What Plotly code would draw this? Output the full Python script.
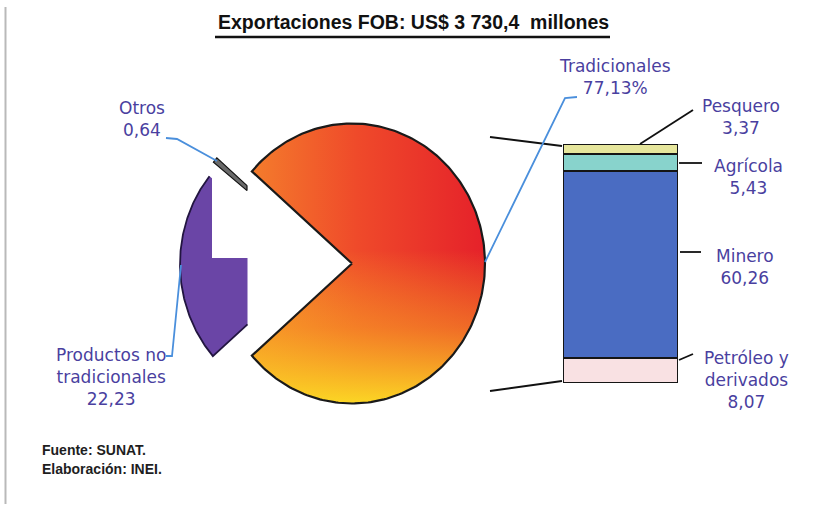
import numpy as np
import plotly.graph_objects as go

# ---- data -------------------------------------------------------------
titulo = "Exportaciones FOB: US$ 3 730,4  millones"
pie_categorias = ["Tradicionales", "Productos no tradicionales", "Otros"]
pie_valores = [77.13, 22.23, 0.64]          # % of total exports
trad_categorias = ["Pesquero", "Agrícola", "Minero", "Petróleo y derivados"]
trad_valores = [3.37, 5.43, 60.26, 8.07]    # % of total, breakdown of "Tradicionales"
fuente = ["Fuente: SUNAT.", "Elaboración: INEI."]

W, H = 837, 507
TXT = "#4a3f9f"
LEAD = "#4a8fdc"


def fmt(v):
    return f"{v:.2f}".replace(".", ",")


# ---- pie geometry helpers (pixel-like coordinates, y grows downwards) --
R, SX = 140.0, 0.95


def wedge(cx, cy, a0, a1, n=120):
    ang = np.radians(np.linspace(a0, a1, n))
    xs = [cx] + list(cx + SX * R * np.cos(ang)) + [cx]
    ys = [cy] + list(cy - R * np.sin(ang)) + [cy]
    return list(zip(xs, ys))


def clip(poly, keep):
    """Sutherland-Hodgman clip against a half plane given as (axis, value, side)."""
    axis, val, side = keep
    def inside(p):
        return p[axis] <= val if side == "le" else p[axis] >= val
    def inter(p, q):
        t = (val - p[axis]) / (q[axis] - p[axis])
        return (p[0] + t * (q[0] - p[0]), p[1] + t * (q[1] - p[1]))
    out = []
    for i in range(len(poly)):
        cur, prev = poly[i], poly[i - 1]
        if inside(cur):
            if not inside(prev):
                out.append(inter(prev, cur))
            out.append(cur)
        elif inside(prev):
            out.append(inter(prev, cur))
    return out


def to_xy(polys):
    xs, ys = [], []
    for p in polys:
        if not p:
            continue
        xs += [q[0] for q in p] + [p[0][0], None]
        ys += [q[1] for q in p] + [p[0][1], None]
    return xs, ys


# slice angles: Tradicionales is centred on the right, then Otros and
# Productos no tradicionales follow counter-clockwise
orden = ["Tradicionales", "Otros", "Productos no tradicionales"]
valor = dict(zip(pie_categorias, pie_valores))
angles = {}
a_start = -valor[orden[0]] * 3.6 / 2
for cat in orden:
    s = valor[cat] * 3.6
    angles[cat] = (a_start, a_start + s)
    a_start += s

centres = {
    "Tradicionales": (352.0, 263.5),
    "Productos no tradicionales": (313.0, 264.0),
    "Otros": (317.0, 250.0),
}

fig = go.Figure()

# Tradicionales slice: horizontal orange→red gradient plus a yellow glow towards the bottom
cat = "Tradicionales"
cx, cy = centres[cat]
red = wedge(cx, cy, *angles[cat], n=240)
rx, ry = to_xy([red])
fig.add_trace(go.Scatter(
    x=rx, y=ry, mode="lines", fill="toself", line=dict(width=0),
    fillgradient=dict(type="horizontal", start=250, stop=488,
                      colorscale=[[0, "#f47d2c"], [0.45, "#ef4a2a"], [1, "#e5202a"]]),
    hoverinfo="skip", showlegend=False))
fig.add_trace(go.Scatter(
    x=rx, y=ry, mode="lines", fill="toself", line=dict(color="#1a1a1a", width=2.2),
    fillgradient=dict(type="vertical", start=250, stop=404,
                      colorscale=[[0, "rgba(250,214,34,0)"], [0.5, "rgba(250,190,34,0.45)"],
                                  [1, "rgba(252,222,36,0.95)"]]),
    hoverinfo="skip", showlegend=False))

# Productos no tradicionales slice (exploded to the left)
cat = "Productos no tradicionales"
cx, cy = centres[cat]
a0, a1 = angles[cat]
pur = wedge(cx, cy, a0, a1)
lower = clip(clip(pur, (0, 247.5, "le")), (1, 258.0, "ge"))
upper = clip(clip(pur, (0, 212.0, "le")), (1, 260.0, "le"))
px_, py_ = to_xy([lower, upper])
fig.add_trace(go.Scatter(
    x=px_, y=py_, mode="lines", fill="toself", fillcolor="#6a45a6",
    line=dict(width=0), hoverinfo="skip", showlegend=False))
arc = np.radians(np.linspace(a0, a1, 120))
ax_ = list(cx + SX * R * np.cos(arc))
ay_ = list(cy - R * np.sin(arc))
t_edge = (cx - 247.5) / (-SX * np.cos(arc[-1]))
ax_.append(cx + SX * t_edge * np.cos(arc[-1]))
ay_.append(cy - t_edge * np.sin(arc[-1]))
fig.add_trace(go.Scatter(
    x=ax_, y=ay_, mode="lines", line=dict(color="#221540", width=1.8),
    hoverinfo="skip", showlegend=False))

# Otros slice (thin sliver)
cat = "Otros"
cx, cy = centres[cat]
otr = clip(wedge(cx, cy, *angles[cat]), (0, 247.0, "le"))
ox, oy = to_xy([otr])
fig.add_trace(go.Scatter(
    x=ox, y=oy, mode="lines", fill="toself", fillcolor="#6a6a6a",
    line=dict(color="#111111", width=1.2), hoverinfo="skip", showlegend=False))

# ---- stacked bar with the breakdown of Tradicionales -------------------
bar_colors = {"Pesquero": "#e6e69c", "Agrícola": "#88d3cc",
              "Minero": "#4a6cc2", "Petróleo y derivados": "#f9e1e3"}
for cat, val in reversed(list(zip(trad_categorias, trad_valores))):
    fig.add_trace(go.Bar(
        x=[0], y=[val], width=1, xaxis="x2", yaxis="y2",
        marker=dict(color=bar_colors[cat], line=dict(color="#151515", width=2.2)),
        hoverinfo="skip", showlegend=False))

# ---- connector and leader lines ---------------------------------------
def poly_line(pts, color, width):
    d = "M " + " L ".join(f"{x},{y}" for x, y in pts)
    return dict(type="path", path=d, xref="x", yref="y",
                line=dict(color=color, width=width), layer="above")

shapes = [
    poly_line([(490, 137), (562, 146)], "#111", 1.8),
    poly_line([(490, 391), (562, 381)], "#111", 1.8),
    poly_line([(640, 144), (693, 110)], "#111", 1.8),
    poly_line([(679, 163), (702, 163)], "#111", 1.8),
    poly_line([(680, 252), (701, 252)], "#111", 1.8),
    poly_line([(679, 360), (693, 354)], "#111", 1.8),
    poly_line([(485, 262), (565, 98), (577, 97)], LEAD, 1.8),
    poly_line([(166, 138), (177, 139), (217, 161)], LEAD, 1.8),
    poly_line([(166, 356), (172, 356), (181, 265)], LEAD, 1.8),
    # title underline and left frame rule
    dict(type="line", xref="x", yref="y", x0=215, x1=610, y0=37, y1=37,
         line=dict(color="#111", width=2.5)),
    dict(type="line", xref="x", yref="y", x0=5.5, x1=5.5, y0=7, y1=504,
         line=dict(color="#b9b9b9", width=2)),
]

# ---- labels ------------------------------------------------------------
annotations = [
    dict(x=413, y=22, text=f"<b>{titulo}</b>", font=dict(size=19.5, color="#111",
         family="Liberation Sans, Arial")),
]
lab_font = dict(size=17, color=TXT, family="DejaVu Sans")
pie_labels = {
    "Tradicionales": (615, 77, f"{pie_categorias[0]}<br>{fmt(pie_valores[0])}%"),
    "Productos no tradicionales": (111, 377, f"Productos no<br>tradicionales<br>{fmt(pie_valores[1])}"),
    "Otros": (142, 119, f"{pie_categorias[2]}<br>{fmt(pie_valores[2])}"),
}
for x, y, t in pie_labels.values():
    annotations.append(dict(x=x, y=y, text=t, font=lab_font))
bar_labels = {
    "Pesquero": (741, 117, f"Pesquero<br>{fmt(trad_valores[0])}"),
    "Agrícola": (748, 177, f"Agrícola<br>{fmt(trad_valores[1])}"),
    "Minero": (745, 267, f"Minero<br>{fmt(trad_valores[2])}"),
    "Petróleo y derivados": (746, 380, f"Petróleo y<br>derivados<br>{fmt(trad_valores[3])}"),
}
for x, y, t in bar_labels.values():
    annotations.append(dict(x=x, y=y, text=t, font=lab_font))
for i, t in enumerate(fuente):
    annotations.append(dict(x=40, y=450 + 18.5 * i, text=f"<b>{t}</b>", xanchor="left",
                            font=dict(size=14, color="#1e1e1e",
                                      family="Liberation Sans, Arial")))
for a in annotations:
    a.update(xref="x", yref="y", showarrow=False)

total_trad = sum(trad_valores)
fig.update_layout(
    width=W, height=H, margin=dict(l=0, r=0, t=0, b=0),
    paper_bgcolor="white", plot_bgcolor="rgba(0,0,0,0)",
    barmode="stack", bargap=0,
    xaxis=dict(range=[0, W], visible=False, domain=[0, 1]),
    yaxis=dict(range=[H, 0], visible=False, domain=[0, 1]),
    xaxis2=dict(range=[-0.5, 0.5], visible=False, anchor="y2",
                domain=[563 / W, 678 / W]),
    yaxis2=dict(range=[0, total_trad], visible=False, anchor="x2",
                domain=[(H - 383) / H, (H - 144) / H]),
    shapes=shapes, annotations=annotations,
)

fig.write_html("out.html")
